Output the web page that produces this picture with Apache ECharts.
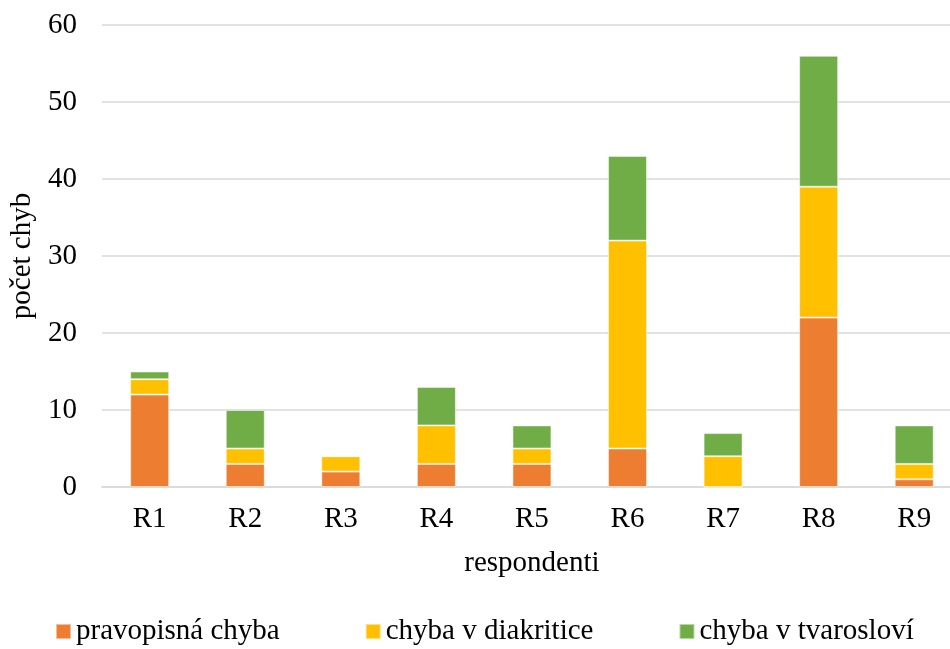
<!DOCTYPE html>
<html>
<head>
<meta charset="utf-8">
<script src="https://cdn.jsdelivr.net/npm/echarts@6/dist/echarts.min.js"></script>
<style>
  html, body { margin: 0; padding: 0; background: #fff; overflow: hidden; }
  /* the plot runs slightly past the right edge of the window */
  #chart { width: 962px; height: 649px; }
</style>
</head>
<body>
<div id="chart"></div>
<script>
// Respondents and error counts per error type
const categories = ['R1', 'R2', 'R3', 'R4', 'R5', 'R6', 'R7', 'R8', 'R9'];
const pravopisna = [12, 3, 2, 3, 3, 5, 0, 22, 1];
const diakritika = [2, 2, 2, 5, 2, 27, 4, 17, 2];
const tvaroslovi = [1, 5, 0, 5, 3, 11, 3, 17, 5];
const yTicks = { min: 0, max: 60, interval: 10 };

const font = 'Liberation Serif, Times New Roman, serif';
const fs = 29;
const chart = echarts.init(document.getElementById('chart'), null, { renderer: 'canvas' });

function barSeries(name, data, color) {
  return {
    name: name,
    type: 'bar',
    stack: 'total',
    data: data,
    barWidth: 39,
    itemStyle: { color: color, borderColor: 'rgba(255,255,255,0.5)', borderWidth: 1 },
    emphasis: { disabled: true }
  };
}

chart.setOption({
  animation: false,
  textStyle: { fontFamily: font, color: '#000' },
  grid: { left: 98, right: 0, top: 25, bottom: 162, containLabel: false },
  legend: {
    top: 617,
    left: 55,
    padding: 0,
    itemWidth: 15,
    itemHeight: 15,
    itemGap: 85,
    icon: 'rect',
    textStyle: { fontFamily: font, fontSize: fs, color: '#000' },
    data: ['pravopisná chyba', 'chyba v diakritice', 'chyba v tvarosloví']
  },
  xAxis: {
    type: 'category',
    data: categories,
    name: 'respondenti',
    nameLocation: 'middle',
    nameGap: 62,
    nameTextStyle: { fontFamily: font, fontSize: fs, color: '#000' },
    axisLine: { show: true, lineStyle: { color: '#d9d9d9', width: 1.5 } },
    axisTick: { show: false },
    axisLabel: { fontFamily: font, fontSize: fs, color: '#000', margin: 18 }
  },
  yAxis: {
    type: 'value',
    min: yTicks.min,
    max: yTicks.max,
    interval: yTicks.interval,
    name: 'počet chyb',
    nameLocation: 'middle',
    nameGap: 56,
    nameRotate: 90,
    nameTextStyle: { fontFamily: font, fontSize: fs, color: '#000' },
    axisLine: { show: false },
    axisTick: { show: false },
    splitLine: { lineStyle: { color: '#d9d9d9', width: 1.5 } },
    axisLabel: { fontFamily: font, fontSize: fs, color: '#000', margin: 25 }
  },
  series: [
    barSeries('pravopisná chyba', pravopisna, '#ED7D31'),
    barSeries('chyba v diakritice', diakritika, '#FFC000'),
    barSeries('chyba v tvarosloví', tvaroslovi, '#70AD47')
  ]
});
</script>
</body>
</html>
